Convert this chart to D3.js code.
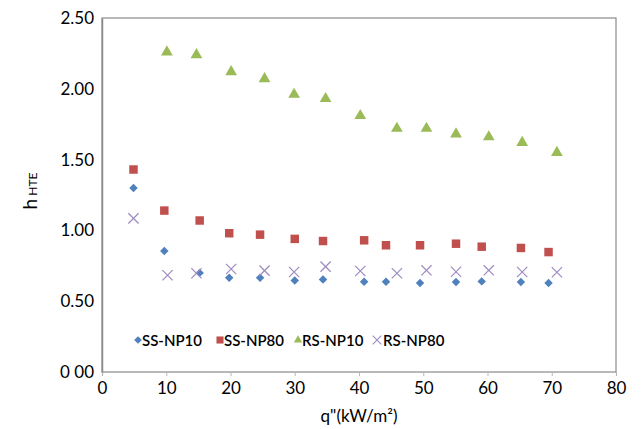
<!DOCTYPE html>
<html>
<head>
<meta charset="utf-8">
<script src="https://cdn.jsdelivr.net/npm/d3@7"></script>
<style>
  body { margin: 0; background: #fff; }
  text { font-family: Lato, "Open Sans", sans-serif; fill: #000; }
</style>
</head>
<body>
<svg id="chart"></svg>
<script>
// data
const seriesNames = ["SS-NP10", "SS-NP80", "RS-NP10", "RS-NP80"];
const ssX = [4.9, 9.7, 15.2, 19.8, 24.6, 30.0, 34.4, 40.8, 44.2, 49.5, 55.1, 59.1, 65.2, 69.5];
const ssNP10 = [1.30, 0.855, 0.70, 0.666, 0.666, 0.647, 0.654, 0.638, 0.638, 0.628, 0.636, 0.64, 0.636, 0.628];
const ssNP80 = [1.43, 1.14, 1.07, 0.98, 0.97, 0.94, 0.925, 0.93, 0.895, 0.895, 0.906, 0.885, 0.876, 0.847];
const rsX = [10.1, 14.7, 20.1, 25.3, 29.9, 34.8, 40.2, 45.9, 50.5, 55.1, 60.2, 65.4, 70.8];
const rsNP10 = [2.26, 2.24, 2.12, 2.07, 1.96, 1.93, 1.81, 1.72, 1.72, 1.68, 1.66, 1.62, 1.55];
const rsX80 = [4.9, 10.2, 14.7, 20.1, 25.3, 29.9, 34.8, 40.2, 45.9, 50.5, 55.1, 60.2, 65.4, 70.8];
const rsNP80 = [1.085, 0.683, 0.697, 0.727, 0.716, 0.706, 0.744, 0.713, 0.697, 0.718, 0.708, 0.718, 0.706, 0.704];
const xTicks = [0, 10, 20, 30, 40, 50, 60, 70, 80];
const yTicks = [0, 0.5, 1.0, 1.5, 2.0, 2.5];

const w = 644, h = 429;
const margin = { top: 18, right: 28, bottom: 57, left: 102 };
const iw = w - margin.left - margin.right;
const ih = h - margin.top - margin.bottom;

const svg = d3.select("#chart").attr("width", w).attr("height", h);

const x = d3.scaleLinear().domain([0, 80]).range([0, iw]);
const y = d3.scaleLinear().domain([0, 2.5]).range([ih, 0]);

const g = svg.append("g").attr("transform", `translate(${margin.left},${margin.top})`);

// plot box
g.append("rect").attr("width", iw).attr("height", ih)
  .attr("fill", "none").attr("stroke", "#8a8a8a").attr("stroke-width", 1.2);

// x axis
const xAxis = g.append("g").attr("transform", `translate(0,${ih})`)
  .call(d3.axisBottom(x).tickValues(xTicks).tickSize(4).tickPadding(6).tickFormat(d3.format("d")));
xAxis.select(".domain").attr("stroke", "#b8b8b8").attr("stroke-width", 1.2);
xAxis.selectAll(".tick line").attr("stroke", "#b8b8b8");
xAxis.selectAll("text").style("font-size", "17px").attr("fill", "#000");

// y axis
const yAxis = g.append("g")
  .call(d3.axisLeft(y).tickValues(yTicks).tickSize(0).tickPadding(8)
    .tickFormat(d => d === 0 ? "0 00" : d3.format(".2f")(d)));
yAxis.select(".domain").attr("stroke", "#8a8a8a").attr("stroke-width", 1.5);
yAxis.selectAll("text").style("font-size", "17px").attr("fill", "#000");

// axis titles
svg.append("text").attr("x", margin.left + iw / 2 - 0).attr("y", 422)
  .attr("text-anchor", "middle").style("font-size", "17px").text("q\"(kW/m²)");
const yl = svg.append("text").attr("transform", "translate(37,191) rotate(-90)")
  .attr("text-anchor", "middle");
yl.append("tspan").style("font-size", "19px").text("h");
yl.append("tspan").attr("dx", 3).style("font-size", "12px").text("HTE");

// markers
const colors = ["#4f81bd", "#c0504d", "#9bbb59", "#9d8ac0"];
const diamond = d3.symbol().type(d3.symbolSquare).size(36);
const square = d3.symbol().type(d3.symbolSquare).size(72);
const triangle = d3.symbol().type(d3.symbolTriangle).size(60);
const cross = d3.symbol().type(d3.symbolX).size(70);

function plot(xs, ys, gen, color, rot, stroke) {
  g.append("g").selectAll("path")
    .data(xs.map((v, i) => [v, ys[i]]))
    .join("path")
    .attr("d", gen())
    .attr("transform", d => `translate(${x(d[0])},${y(d[1])}) rotate(${rot})`)
    .attr("fill", stroke ? "none" : color)
    .attr("stroke", stroke ? color : "none")
    .attr("stroke-width", stroke ? 1.2 : 0);
}
plot(ssX, ssNP10, diamond, colors[0], 45, false);
plot(ssX, ssNP80, square, colors[1], 0, false);
plot(rsX, rsNP10, triangle, colors[2], 0, false);
plot(rsX80, rsNP80, cross, colors[3], 0, true);

// legend
const legendX = [138, 220, 298, 377];
const gens = [diamond, square, triangle, cross];
const lg = svg.append("g").attr("transform", "translate(0,340)");
seriesNames.forEach((name, i) => {
  const m = lg.append("path").attr("d", gens[i].size(i === 3 ? 50 : (i === 1 ? 50 : 30))())
    .attr("transform", `translate(${legendX[i]},0) rotate(${i === 0 ? 45 : 0})`);
  if (i === 3) m.attr("fill", "none").attr("stroke", colors[i]).attr("stroke-width", 1.1);
  else m.attr("fill", colors[i]);
  lg.append("text").attr("x", legendX[i] + (i === 3 ? 6 : 4)).attr("y", 5.5)
    .style("font-size", "15px").style("font-weight", 600).text(name);
});
</script>
</body>
</html>
